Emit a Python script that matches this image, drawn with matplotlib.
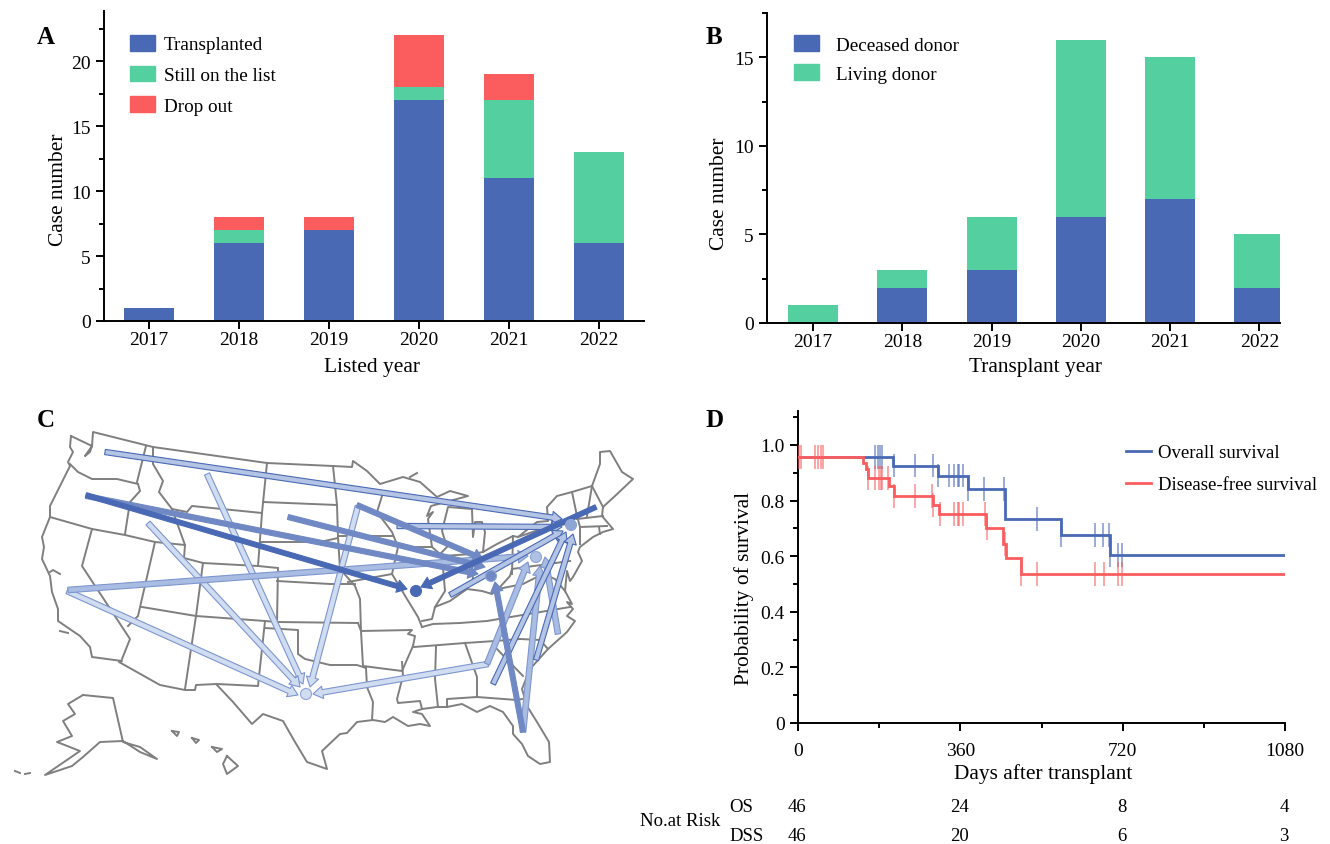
import matplotlib
matplotlib.use('Agg')
import numpy as np
import matplotlib.pyplot as plt
from matplotlib.lines import Line2D
from matplotlib.patches import Patch, FancyArrowPatch, Circle
from matplotlib.ticker import MultipleLocator

plt.rcParams['font.family'] = ['Liberation Serif', 'DejaVu Serif']
plt.rcParams['font.size'] = 14
plt.rcParams['axes.linewidth'] = 1.4

BLUE = '#4a69b5'
GREEN = '#54cfa0'
RED = '#fb5d5f'
GREY = '#7f7f7f'

# Panel A / B
years = ['2017', '2018', '2019', '2020', '2021', '2022']
transplanted = [1, 6, 7, 17, 11, 6]
still_listed = [0, 1, 0, 1, 6, 7]
drop_out = [0, 1, 1, 4, 2, 0]
deceased = [0, 2, 3, 6, 7, 2]
living = [1, 1, 3, 10, 8, 3]

# Panel D, step curves: (day of drop, survival after the drop)
os_days = [0, 211, 311, 376, 459, 583, 692]
os_surv = [0.957, 0.926, 0.89, 0.84, 0.733, 0.676, 0.603]
dfs_days = [0, 145, 150, 155, 201, 213, 299, 313, 418, 455, 461, 494]
dfs_surv = [0.957, 0.935, 0.914, 0.88, 0.851, 0.815, 0.784, 0.751, 0.70, 0.645, 0.594, 0.537]
os_censor = [171, 178, 182, 186, 213, 260, 300, 311, 334, 346, 354, 358, 365, 376,
             413, 457, 529, 583, 659, 677, 690, 692, 710, 718]
dfs_censor = [3, 6, 38, 45, 50, 55, 155, 171, 180, 183, 187, 200, 213, 260, 297, 300,
              314, 345, 354, 357, 365, 415, 419, 459, 494, 529, 659, 679, 710, 718]
risk_days = [0, 360, 720, 1080]
risk_os = [46, 24, 8, 4]
risk_dss = [46, 20, 6, 3]

# Panel C, map outlines traced in picture pixels
us_outline = [(71, 437), (70, 448), (73, 453), (68, 463), (70, 467), (50, 507), (50, 518), (42, 538),
              (44, 548), (42, 560), (50, 577), (52, 593), (58, 610), (58, 622), (80, 637), (90, 648),
              (92, 658), (122, 662), (119, 663), (160, 686), (185, 691), (195, 691), (196, 686),
              (216, 685), (233, 703), (252, 725), (263, 715), (283, 722), (295, 743), (307, 763),
              (327, 770), (322, 752), (340, 735), (347, 734), (357, 723), (373, 721), (385, 723),
              (393, 718), (408, 727), (420, 725), (430, 727), (422, 715), (413, 713), (422, 710),
              (437, 708), (447, 708), (462, 705), (477, 713), (490, 707), (503, 713), (513, 727),
              (513, 735), (522, 745), (528, 757), (540, 765), (550, 763), (549, 743), (537, 723),
              (527, 707), (522, 690), (530, 670), (548, 650), (567, 633), (575, 622), (567, 617),
              (573, 610), (567, 603), (572, 605), (565, 592), (567, 572), (570, 582), (573, 578),
              (582, 562), (578, 553), (580, 548), (593, 538), (603, 533), (613, 530), (602, 517),
              (603, 508), (615, 497), (633, 480), (622, 473), (610, 452), (600, 453), (600, 465),
              (592, 487), (572, 493), (557, 497), (547, 508), (548, 522), (537, 523), (518, 538),
              (513, 537), (497, 545), (483, 553), (485, 533), (482, 523), (475, 523), (473, 538),
              (472, 510), (448, 508), (442, 532), (447, 548), (440, 555), (432, 548), (428, 520),
              (433, 513), (427, 517), (431, 507), (468, 497), (450, 492), (437, 498), (420, 483),
              (403, 478), (380, 485), (367, 472), (353, 462), (352, 468), (333, 467), (267, 464),
              (153, 448), (93, 433), (92, 447), (90, 453), (85, 457), (92, 447), (71, 437)]
state_lines = [
    [(70, 465), (78, 473), (92, 480), (117, 480), (138, 485)],
    [(146, 447), (137, 483)],
    [(138, 485), (140, 492), (130, 503), (125, 535)],
    [(50, 518), (92, 530), (125, 536), (155, 543), (185, 546)],
    [(153, 448), (153, 465), (163, 482), (159, 493), (172, 510), (187, 513), (192, 507), (262, 514)],
    [(267, 464), (262, 514), (258, 567)],
    [(172, 510), (185, 546), (184, 559), (203, 564), (258, 567), (278, 569)],
    [(263, 503), (337, 506)],
    [(260, 543), (320, 543), (338, 539)],
    [(333, 467), (337, 506), (338, 538), (340, 570), (355, 587), (360, 600), (361, 632)],
    [(278, 569), (277, 623)],
    [(277, 582), (330, 585), (355, 585)],
    [(338, 537), (393, 537)],
    [(348, 583), (392, 575)],
    [(361, 632), (412, 631), (408, 635), (415, 637), (413, 647)],
    [(382, 497), (377, 513), (392, 533), (398, 548), (392, 575), (407, 600), (418, 618), (422, 628)],
    [(400, 548), (432, 548)],
    [(422, 622), (432, 620), (435, 608), (450, 602), (467, 590), (482, 592), (492, 595), (500, 588),
     (510, 577), (512, 570)],
    [(442, 557), (472, 555), (483, 553)],
    [(442, 557), (445, 592), (435, 608)],
    [(472, 555), (473, 585)],
    [(513, 537), (512, 575)],
    [(512, 570), (570, 562)],
    [(518, 538), (547, 528), (567, 525)],
    [(498, 590), (523, 585), (543, 575), (555, 580), (565, 592)],
    [(422, 628), (433, 625), (460, 624), (487, 622), (570, 608)],
    [(414, 648), (465, 644), (495, 642), (500, 627)],
    [(495, 642), (520, 640), (540, 641), (548, 650)],
    [(495, 642), (495, 648), (523, 677)],
    [(465, 644), (477, 678), (477, 698)],
    [(477, 698), (517, 701), (522, 700)],
    [(477, 698), (447, 700), (447, 708)],
    [(436, 648), (435, 680), (438, 708)],
    [(358, 624), (361, 632), (363, 667), (402, 672), (413, 647)],
    [(402, 663), (403, 677), (397, 700), (398, 704), (420, 702), (422, 710)],
    [(366, 669), (367, 688), (373, 703), (372, 721)],
    [(277, 623), (358, 624)],
    [(265, 629), (298, 631), (298, 655), (305, 660), (330, 666), (357, 666), (366, 669)],
    [(203, 564), (196, 617), (265, 622), (277, 623)],
    [(196, 617), (185, 690)],
    [(265, 622), (258, 687), (217, 685)],
    [(155, 543), (138, 617), (128, 627)],
    [(142, 608), (196, 617)],
    [(92, 530), (82, 567), (130, 640), (122, 660)],
    [(572, 493), (577, 517), (580, 528), (580, 545)],
    [(592, 487), (587, 517)],
    [(592, 487), (603, 508)],
    [(577, 520), (603, 517)],
    [(580, 528), (607, 527)],
    [(599, 528), (600, 535)],
]
alaska = [(83, 696), (113, 699), (123, 743), (140, 748), (157, 760), (140, 753), (123, 742), (100, 743),
          (83, 758), (72, 767), (45, 776), (80, 752), (57, 743), (72, 737), (63, 722), (75, 715),
          (68, 705), (83, 696)]
islands = [
    [(227, 757), (238, 767), (227, 775), (223, 765), (227, 757)],
    [(212, 748), (222, 750), (217, 753), (212, 748)],
    [(192, 739), (199, 741), (196, 744), (192, 739)],
    [(172, 732), (179, 733), (177, 737), (172, 732)],
    [(15, 772), (20, 774)],
    [(25, 775), (30, 774)],
    [(60, 632), (68, 634)],
    [(50, 573), (53, 571), (60, 575)],
    [(410, 478), (417, 474)],
]

# Panel C, transfers grouped by how dark they are
dark_tails = [(86, 496), (596, 508)]
dark_heads = [(407, 590), (421, 588)]
mid_tails = [(86, 497), (288, 518), (357, 506), (523, 733)]
mid_heads = [(478, 575), (485, 568), (483, 560), (495, 583)]
pale_tails = [(68, 591), (487, 665), (523, 733), (558, 635)]
pale_heads = [(528, 557), (528, 563), (540, 567), (545, 558)]
edged_tails = [(105, 453), (397, 527), (450, 596), (493, 685), (536, 661)]
edged_heads = [(562, 520), (562, 528), (563, 532), (566, 533), (573, 535)]
light_tails = [(207, 475), (148, 524), (67, 592), (358, 507), (488, 665)]
light_heads = [(303, 685), (300, 688), (298, 696), (310, 688), (313, 695)]
centres = [(416, 592), (491, 577), (536, 558), (571, 526), (306, 695)]
centre_colors = [BLUE, '#7089c4', '#afc0e2', '#8ea6d6', '#d0dcf0']


def axes_px(fig, left, right, top, bottom):
    """Axes from picture pixel edges."""
    w, h = 1330.0, 845.0
    return fig.add_axes([left / w, 1 - bottom / h, (right - left) / w, (bottom - top) / h])


def style(ax, xpad):
    ax.spines['top'].set_visible(False)
    ax.spines['right'].set_visible(False)
    ax.tick_params(which='major', width=1.4, length=6)
    ax.tick_params(which='minor', width=1.4, length=3.5)
    ax.tick_params(axis='x', pad=xpad)


def labels(ax, xtext, xpos, ytext, ypos):
    ax.set_xlabel(xtext, fontsize=15.4)
    ax.set_ylabel(ytext, fontsize=15.4, va='center')
    ax.xaxis.label.set_va('center')
    ax.xaxis.set_label_coords(*xpos)
    ax.yaxis.set_label_coords(*ypos)


def key_patches(ax, handles, anchor, spacing, textpad):
    ax.legend(handles=handles, loc='upper left', bbox_to_anchor=anchor, frameon=False,
              handlelength=1.3, handleheight=0.9, handletextpad=textpad, labelspacing=spacing,
              borderpad=0, borderaxespad=0, fontsize=13.8)


def arrows(ax, tails, heads, face, edge, tail_w, head_w, head_l):
    st = 'simple,tail_width=%g,head_width=%g,head_length=%g' % (tail_w, head_w, head_l)
    for t, h in zip(tails, heads):
        ax.add_patch(FancyArrowPatch(t, h, arrowstyle=st, mutation_scale=1, shrinkA=0, shrinkB=0,
                                     fc=face, ec=edge, lw=0.8, zorder=3))


fig = plt.figure(figsize=(13.3, 8.45), dpi=100)

# Panel C
bg = fig.add_axes([0, 0, 1, 1])
bg.set_xlim(0, 1330)
bg.set_ylim(845, 0)
bg.axis('off')
for path in [us_outline, alaska] + state_lines + islands:
    xs, ys = zip(*path)
    bg.plot(xs, ys, color=GREY, lw=1.4, solid_joinstyle='round', zorder=1)
arrows(bg, light_tails, light_heads, '#d0dcf0', '#7e96cf', 4, 9, 7)
arrows(bg, pale_tails, pale_heads, '#a9bce1', '#7e96cf', 4, 9, 7)
arrows(bg, edged_tails, edged_heads, '#b4c4e4', BLUE, 3.8, 9, 7)
arrows(bg, mid_tails, mid_heads, '#7089c4', '#7089c4', 3.6, 9, 7)
arrows(bg, dark_tails, dark_heads, BLUE, BLUE, 3.4, 9, 7)
for c, col in zip(centres, centre_colors):
    bg.add_patch(Circle(c, 5.5, fc=col, ec='#8ea6d6' if col != BLUE else BLUE, lw=0.8, zorder=4))

for letter, x, y in [('A', 37, 38), ('B', 706, 38), ('C', 37, 421), ('D', 706, 421)]:
    bg.text(x, y, letter, fontsize=18, fontweight='bold', ha='left', va='center', color='black')

# Panel A
ax = axes_px(fig, 104, 644, 12, 322)
style(ax, 1.5)
pos = np.arange(len(years))
t = np.array(transplanted)
s = np.array(still_listed)
ax.bar(pos, t, width=0.555, color=BLUE)
ax.bar(pos, s, width=0.555, bottom=t, color=GREEN)
ax.bar(pos, drop_out, width=0.555, bottom=t + s, color=RED)
ax.set_xlim(-0.5, 5.5)
ax.set_ylim(0, 23.85)
ax.set_xticks(pos, years)
ax.yaxis.set_major_locator(MultipleLocator(5))
ax.yaxis.set_minor_locator(MultipleLocator(2.5))
labels(ax, 'Listed year', (0.496, -0.146), 'Case number', (-0.085, 0.426))
key_patches(ax, [Patch(color=BLUE, label='Transplanted'), Patch(color=GREEN, label='Still on the list'),
                 Patch(color=RED, label='Drop out')], (0.048, 0.923), 0.63, 0.47)

# Panel B
ax = axes_px(fig, 767, 1280, 14, 324)
style(ax, 1.5)
d = np.array(deceased)
ax.bar(pos, d, width=0.56, color=BLUE)
ax.bar(pos, living, width=0.56, bottom=d, color=GREEN)
ax.set_xlim(-0.516, 5.23)
ax.set_ylim(0, 17.5)
ax.set_xticks(pos, years)
ax.yaxis.set_major_locator(MultipleLocator(5))
ax.yaxis.set_minor_locator(MultipleLocator(2.5))
labels(ax, 'Transplant year', (0.524, -0.141), 'Case number', (-0.0935, 0.42))
key_patches(ax, [Patch(color=BLUE, label='Deceased donor'), Patch(color=GREEN, label='Living donor')],
            (0.0526, 0.929), 0.56, 0.88)

# Panel D
ax = axes_px(fig, 798, 1285, 412, 724)
style(ax, 8)
ax.set_xlim(0, 1080)
ax.set_ylim(0, 1.122)


def km(days, surv, censor, color):
    x = np.array(days + [1080])
    y = np.array(surv + [surv[-1]])
    ax.step(x, y, where='post', color=color, lw=2, zorder=3, solid_joinstyle='miter')
    cy = y[np.searchsorted(x, censor, side='right') - 1]
    ax.vlines(censor, cy - 0.043, cy + 0.043, color=color, lw=1.1, alpha=0.7, zorder=3)


km(os_days, os_surv, os_censor, BLUE)
km(dfs_days, dfs_surv, dfs_censor, RED)
ax.set_xticks(risk_days)
ax.xaxis.set_minor_locator(MultipleLocator(180))
ax.yaxis.set_major_locator(MultipleLocator(0.2))
ax.yaxis.set_minor_locator(MultipleLocator(0.1))
ax.set_yticks([0, 0.2, 0.4, 0.6, 0.8, 1.0], ['0', '0.2', '0.4', '0.6', '0.8', '1.0'])
labels(ax, 'Days after transplant', (0.503, -0.161), 'Probability of survival', (-0.111, 0.436))
ax.legend(handles=[Line2D([], [], color=BLUE, lw=2, label='Overall survival'),
                   Line2D([], [], color=RED, lw=2, label='Disease-free survival')],
          loc='upper left', bbox_to_anchor=(0.674, 0.8935), frameon=False, handlelength=1.3,
          handletextpad=0.37, labelspacing=0.79, borderpad=0, borderaxespad=0, fontsize=13.5)

# Risk table
tr = ax.get_xaxis_transform()
for day, a, b in zip(risk_days, risk_os, risk_dss):
    ax.text(day - 2, (724 - 808) / 312.0, str(a), transform=tr, ha='center', va='center', clip_on=False,
            fontsize=13.5)
    ax.text(day - 2, (724 - 837) / 312.0, str(b), transform=tr, ha='center', va='center', clip_on=False,
            fontsize=13.5)
bg.text(640, 822, 'No.at Risk', ha='left', va='center', fontsize=13.5)
bg.text(729, 808, 'OS', ha='left', va='center', fontsize=13.5)
bg.text(729, 837, 'DSS', ha='left', va='center', fontsize=13.5)

fig.savefig('out.png', dpi=100)
